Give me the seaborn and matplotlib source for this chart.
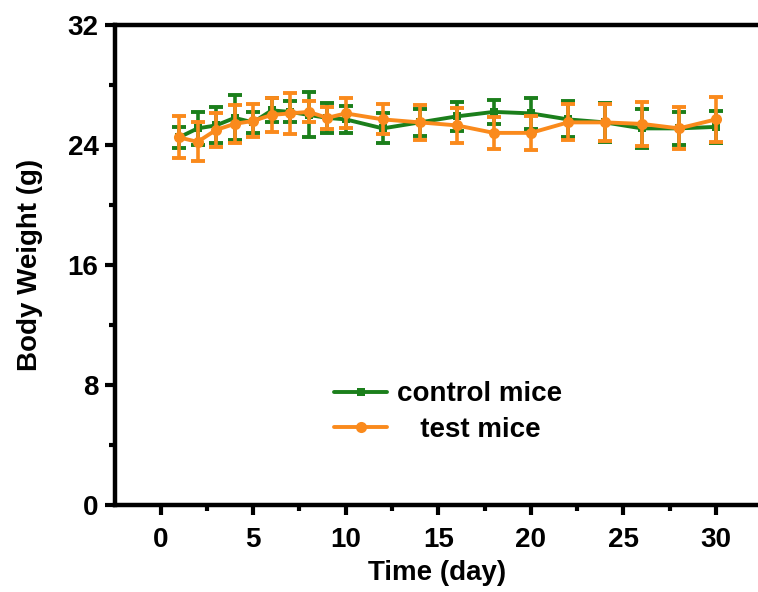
import matplotlib
matplotlib.use("Agg")
import matplotlib.pyplot as plt
import numpy as np
import pandas as pd
import seaborn as sns
from matplotlib.lines import Line2D
from matplotlib.ticker import MultipleLocator

# data
days = [1, 2, 3, 4, 5, 6, 7, 8, 9, 10, 12, 14, 16, 18, 20, 22, 24, 26, 28, 30]
control_mean = [24.5, 25.1, 25.3, 25.8, 25.5, 26.3, 26.2, 26.0, 25.8, 25.7,
                25.1, 25.5, 25.9, 26.2, 26.1, 25.7, 25.5, 25.1, 25.1, 25.2]
control_sd = [0.7, 1.1, 1.2, 1.5, 0.7, 0.8, 0.7, 1.5, 1.0, 0.9,
              1.0, 0.9, 0.95, 0.8, 1.05, 1.2, 1.3, 1.3, 1.1, 1.05]
test_mean = [24.5, 24.2, 25.0, 25.4, 25.6, 26.0, 26.1, 26.2, 25.8, 26.1,
             25.7, 25.5, 25.3, 24.8, 24.8, 25.5, 25.5, 25.4, 25.1, 25.7]
test_sd = [1.4, 1.3, 1.15, 1.25, 1.1, 1.15, 1.35, 0.7, 0.75, 1.0,
           1.0, 1.15, 1.15, 1.05, 1.15, 1.2, 1.25, 1.45, 1.4, 1.5]
groups = ["control mice", "test mice"]
colors = {"control mice": "#1b7f1b", "test mice": "#fa8a1c"}

df = pd.DataFrame({
    "day": days * 2,
    "weight": control_mean + test_mean,
    "sd": control_sd + test_sd,
    "group": [groups[0]] * len(days) + [groups[1]] * len(days),
})

sns.set_style("ticks")
plt.rcParams["font.family"] = ["Liberation Sans", "DejaVu Sans"]
plt.rcParams["font.weight"] = "bold"
plt.rcParams["text.color"] = "black"
plt.rcParams["axes.labelcolor"] = "black"
plt.rcParams["xtick.color"] = "black"
plt.rcParams["ytick.color"] = "black"

fig = plt.figure(figsize=(7.58, 5.92), dpi=100)
ax = fig.add_axes([0.152, 0.147, 0.848, 0.811])

markers = {"control mice": "s", "test mice": "o"}
sizes = {"control mice": 6, "test mice": 8}
for i, g in enumerate(groups):
    sub = df[df["group"] == g]
    ax.errorbar(sub["day"], sub["weight"], yerr=sub["sd"], fmt="none",
                ecolor=colors[g], elinewidth=2.6, capsize=5, capthick=2.8,
                zorder=2 + 2 * i)
    sns.lineplot(data=sub, x="day", y="weight", color=colors[g],
                 marker=markers[g], markersize=sizes[g], markeredgewidth=0,
                 linewidth=2.8, ax=ax, zorder=3 + 2 * i, legend=False)

ax.set_xlim(-2.45, 32.27)
ax.set_ylim(0, 32)
ax.xaxis.set_major_locator(MultipleLocator(5))
ax.xaxis.set_minor_locator(MultipleLocator(2.5))
ax.yaxis.set_major_locator(MultipleLocator(8))
ax.yaxis.set_minor_locator(MultipleLocator(4))

for side in ["left", "bottom", "top"]:
    ax.spines[side].set_linewidth(3.2)
    ax.spines[side].set_color("black")
ax.spines["right"].set_visible(False)
ax.tick_params(which="major", direction="out", length=7, width=3,
               labelsize=20, top=False, right=False)
ax.tick_params(which="minor", direction="out", length=4, width=3,
               top=False, right=False)
ax.tick_params(axis="x", which="major", pad=9)
ax.tick_params(axis="y", which="major", pad=5)
for lab in ax.get_xticklabels() + ax.get_yticklabels():
    lab.set_fontweight("bold")

ax.set_xlabel("Time (day)", fontsize=20, fontweight="bold", labelpad=5)
ax.set_ylabel("Body Weight (g)", fontsize=20, fontweight="bold", labelpad=18)

handles = [
    Line2D([], [], color=colors[g], marker=markers[g], markersize=sizes[g],
           markeredgewidth=0, linewidth=2.8)
    for g in groups
]
ax.legend(handles, ["control mice", "   test mice"], loc="center left",
          bbox_to_anchor=(0.302, 0.193), frameon=False,
          handlelength=1.9, handletextpad=0.36, labelspacing=0.35,
          prop={"weight": "bold", "size": 20})

fig.savefig("out.png", dpi=100)
